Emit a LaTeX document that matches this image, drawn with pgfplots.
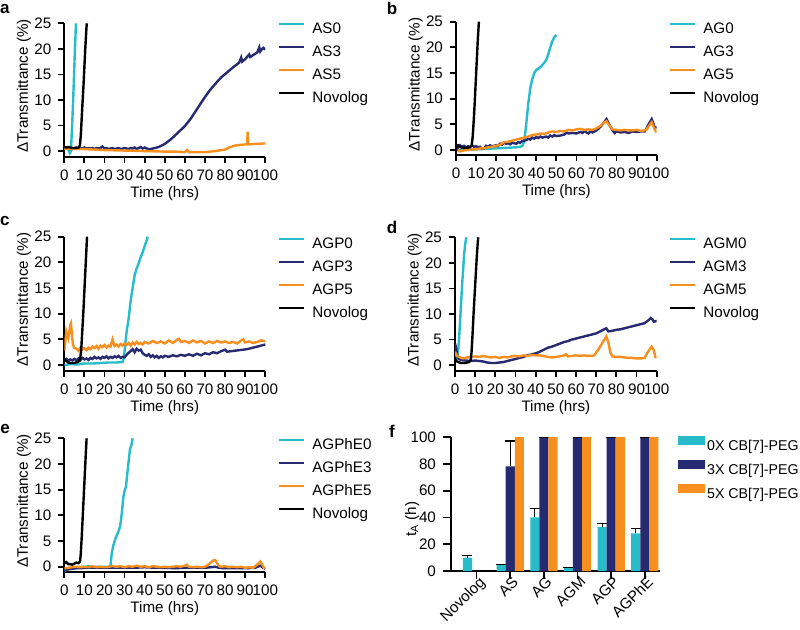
\documentclass[border=0pt]{standalone}
\usepackage{pgfplots}
\pgfplotsset{compat=1.18}
\usepackage{fontspec}
\setmainfont{Liberation Sans}
\definecolor{cy}{RGB}{40,187,202}
\definecolor{nv}{RGB}{38,42,112}
\definecolor{og}{RGB}{247,143,31}
\newcommand\fs{\fontsize{7.6}{9}\selectfont}
\pgfplotsset{
 common/.style={
  scale only axis,
  axis x line=bottom, axis y line=left,
  x axis line style={-}, y axis line style={-},
  axis line style={line width=0.9pt},
  tick align=outside, major tick length=3pt,
  tick style={line width=0.9pt, black},
  tick label style={font=\fs},
  /pgf/number format/assume math mode=true,
  label style={font=\fs, inner sep=0pt},
  legend style={draw=none, fill=none, font=\fs, anchor=north west,
    inner sep=0pt, outer sep=0pt,
    row sep=4.5pt, nodes={inner sep=0pt, outer sep=0pt, text height=5.5pt, text depth=1.5pt}},
  legend cell align=left,
 },
 linepanel/.style={
  common,
  width=100.5pt, height=66.7pt,
  xmin=0, xmax=100, ymin=-1.1, ymax=25,
  xtick={0,10,...,100}, ytick={0,5,...,25},
  xlabel={Time (hrs)}, ylabel={ΔTransmittance (\%)},
  xlabel style={at={(axis description cs:0.5,0)}, anchor=north, yshift=-14.5pt},
  ylabel style={at={(axis description cs:-0.163,0.53)}, anchor=south},
  legend image code/.code={\draw[##1, line width=1.2pt] (0pt,2.6pt) -- (12.5pt,2.6pt); \path (16pt,0pt);},
 },
 lw/.style={line width=1.2pt, mark=none},
 barleg/.style={legend image code/.code={\fill[##1] (0pt,0.6pt) rectangle (13.7pt,4.9pt); \path (14.6pt,0pt);}},
 eb/.style={error bars/.cd, y dir=plus, y explicit, error mark=|,
  error bar style={black, line width=0.6pt},
  error mark options={black, line width=0.6pt, mark size=2.5pt}},
}
\begin{document}
\begin{tikzpicture}
\path[use as bounding box] (0,0) rectangle (400pt,-314.5pt);
\tikzset{lett/.style={font=\bfseries\fontsize{8.5}{9}\selectfont, inner sep=0pt}}
\node[lett] at (2.4pt,-4.5pt) {a};
\node[lett] at (196pt,-4.2pt) {b};
\node[lett] at (2.4pt,-110.5pt) {c};
\node[lett] at (196pt,-113.5pt) {d};
\node[lett] at (2.5pt,-214.5pt) {e};
\node[lett] at (196pt,-215.5pt) {f};

% ---------- a ----------
\begin{axis}[linepanel, at={(32.15pt,-78.35pt)}, anchor=south west,
  legend style={at={(axis description cs:1.063,1.007)}}]
\addplot[cy, lw] coordinates {(0,0.4)(1,0.5)(2,0.3)(2.8,-0.4)(3.3,0)(4,6)(4.6,12)(5.2,19)(5.8,25)};
\addplot[nv, lw] coordinates {(0,0.5)(1,0.7)(2,0.5)(3,0.6)(4,0.4)(5,0.6)(6,0.7)(7,0.5)(8,0.6)(9,0.5)(10,0.7)(11,0.5)(12,0.6)(13,0.5)(14,0.6)(15,0.4)(16,0.6)(17,0.5)(18,0.6)(19,0.9)(20,0.5)(21,0.6)(22,0.4)(23,0.5)(24,0.6)(25,0.4)(26,0.5)(27,0.6)(28,0.4)(29,0.5)(30,0.6)(31,0.5)(32,0.4)(33,0.6)(34,0.5)(35,0.7)(36,0.4)(37,0.6)(38,0.8)(39,0.5)(40,0.7)(41,0.5)(42,0.4)(43,0.4)(44,0.5)(45,0.6)(46,0.7)(47,0.8)(48,1.0)(50,1.4)(53,2.3)(56,3.4)(60,4.9)(63,6.4)(66,8.2)(69,10)(72,11.7)(75,13.1)(78,14.4)(81,15.4)(84,16.4)(87,17.3)(88,18.3)(88.5,17.5)(90,18)(92,18.9)(92.5,18.4)(94,18.8)(96,19.3)(97,20.3)(97.5,19.5)(98,19.8)(99,20.2)(100,19.9)};
\addplot[og, lw] coordinates {(0,0.5)(5,0.4)(10,0.4)(15,0.3)(20,0.2)(30,0.1)(40,0)(50,-0.1)(55,-0.1)(60,-0.2)(61,0.2)(62,-0.2)(70,-0.2)(75,0)(80,0.3)(82,0.7)(85,1.1)(90,1.3)(91,1.3)(91.2,3.8)(91.5,1.3)(95,1.4)(100,1.5)};
\addplot[black, lw] coordinates {(0,0.8)(1,0.7)(2,0.8)(4,0.6)(6,0.6)(7.2,0.7)(7.8,1.2)(8.2,3)(8.6,6)(9,9)(9.5,12.5)(10,16.5)(10.5,20.5)(11,24)(11.2,25)};
\legend{AS0,AS3,AS5,Novolog}
\end{axis}

% ---------- b ----------
\begin{axis}[linepanel, at={(228pt,-77.5pt)}, anchor=south west, width=100.35pt, height=66.65pt, ymin=-1.0,
  legend style={at={(axis description cs:1.061,0.995)}}]
\addplot[cy, lw] coordinates {(0,0.3)(2,0)(4,0.1)(6,0)(10,0.1)(15,0.2)(20,0.3)(25,0.4)(30,0.5)(32,0.6)(33,0.8)(34,1.6)(35,5)(36,9)(37,12)(38,13.8)(39,15)(40,15.6)(42,16.1)(44,17)(45,17.6)(46,18.7)(47,20)(48,21.2)(49,22)(50,22.4)};
\addplot[nv, lw] coordinates {(0,0.8)(1,0.5)(2,0.9)(3,0.6)(4,0.8)(5,0.5)(6,0.7)(7,0.6)(8,0.9)(9,0.6)(10,0.7)(11,0.5)(12,0.6)(13,0.2)(14,0.3)(15,0.8)(16,0.6)(17,0.9)(18,0.7)(19,0.8)(20,0.9)(21,0.8)(22,1.2)(23,1.0)(24,1.4)(25,1.2)(26,1.3)(27,1.1)(28,1.4)(29,1.3)(30,1.2)(31,1.5)(32,1.4)(33,1.7)(34,1.8)(35,1.9)(36,2.2)(37,2.0)(38,2.4)(39,2.2)(40,2.5)(41,2.3)(42,2.6)(43,2.4)(44,2.5)(45,2.6)(46,2.4)(47,2.8)(48,2.6)(49,2.9)(50,2.7)(52,2.8)(54,3.0)(55,3.4)(56,3.2)(58,3.3)(60,3.2)(62,3.5)(63,3.3)(64,3.7)(65,3.4)(66,3.2)(67,3.6)(68,3.4)(70,3.8)(72,4.5)(74,5.5)(75,6.0)(76,5.2)(78,3.8)(79,3.3)(80,3.6)(82,3.4)(84,3.5)(86,3.3)(88,3.6)(90,3.5)(92,3.6)(94,3.6)(95,4.2)(96,5.0)(97.5,6.0)(98.5,5.0)(99,4.2)(100,4.5)};
\addplot[og, lw] coordinates {(0,0.2)(2,-0.3)(4,-0.1)(6,0)(8,0.1)(10,0.1)(12,0.3)(14,0.3)(16,0.5)(18,0.6)(20,0.8)(22,1.0)(24,1.5)(26,1.6)(28,1.8)(30,2.0)(32,2.2)(34,2.4)(36,2.6)(38,2.9)(40,3.0)(42,3.2)(44,3.1)(46,3.4)(48,3.6)(50,3.5)(52,3.7)(54,3.6)(56,3.9)(58,3.8)(60,4.0)(62,4.1)(64,3.9)(66,4.0)(68,3.9)(70,4.2)(72,4.7)(74,5.4)(75,5.6)(76,5.0)(78,4.0)(80,3.9)(82,3.8)(84,3.9)(86,3.8)(88,3.8)(90,3.9)(92,3.7)(94,3.8)(95,4.0)(96,4.6)(97.5,5.4)(98.5,4.5)(99.3,3.8)(100,3.4)};
\addplot[black, lw] coordinates {(0,-0.3)(0.3,0.8)(1,0.9)(2,0.6)(3,0.4)(5,0.4)(7,0.5)(7.8,0.9)(8.3,2.5)(8.8,5.5)(9.3,9)(9.8,13)(10.3,17)(10.8,21)(11.4,25)};
\legend{AG0,AG3,AG5,Novolog}
\end{axis}

% ---------- c ----------
\begin{axis}[linepanel, at={(32.15pt,-185.35pt)}, anchor=south west, height=67pt,
  legend style={at={(axis description cs:1.063,0.995)}}]
\addplot[cy, lw] coordinates {(0,0)(2,0.1)(4,0.2)(6,0.1)(8,0.2)(10,0.3)(14,0.3)(18,0.4)(22,0.5)(26,0.5)(29,0.6)(29.7,1.5)(30.3,4)(31,6.5)(32,9)(33,12.5)(34,15)(35,17.5)(36,18.8)(37,19.8)(38,21)(39,22)(40,23.2)(41,24.3)(41.5,25)};
\addplot[nv, lw] coordinates {(0,0.9)(1,1.2)(2,0.8)(3,1.1)(4,0.9)(5,1.2)(6,0.9)(7,1.3)(8,1.0)(9,1.4)(10,1.1)(11,1.3)(12,1.0)(13,1.4)(14,1.2)(15,1.6)(16,1.3)(17,1.5)(18,1.2)(19,1.6)(20,1.4)(21,1.7)(22,1.3)(23,1.6)(24,1.4)(25,1.7)(26,1.5)(27,1.8)(28,1.4)(29,1.6)(30,1.5)(31,2.0)(32,2.4)(33,2.7)(34,3.1)(35,2.5)(36,3.2)(37,2.8)(38,3.0)(39,2.3)(40,2.0)(41,1.8)(42,2.1)(43,1.6)(44,1.9)(45,1.5)(46,1.8)(47,1.4)(48,1.7)(49,1.5)(50,1.8)(52,1.6)(54,1.9)(56,1.7)(58,2.0)(60,1.8)(62,2.1)(64,1.8)(66,2.2)(68,1.9)(70,2.3)(72,2.1)(74,2.5)(76,2.3)(78,2.7)(80,3.0)(81,2.6)(83,2.7)(85,2.8)(87,2.9)(89,3.0)(91,3.1)(93,3.3)(95,3.5)(97,3.7)(100,4.0)};
\addplot[og, lw] coordinates {(0,2.8)(0.5,4.5)(1,6.5)(1.5,5.8)(2,5.2)(2.5,6.5)(3,7.8)(3.3,8.1)(3.8,6)(4.3,4)(5,3.3)(6,3.2)(7,2.8)(8,3.4)(9,3.0)(10,3.3)(11,2.9)(12,3.4)(13,3.1)(14,3.6)(15,3.3)(16,3.7)(17,3.2)(18,3.8)(19,3.5)(20,3.9)(21,3.4)(22,3.8)(23,3.6)(24,5.0)(25,3.7)(26,4.0)(27,3.6)(28,4.1)(29,3.8)(30,4.2)(31,3.9)(32,4.3)(33,3.8)(34,4.4)(35,4.0)(36,4.5)(37,4.1)(38,4.3)(39,4.0)(40,4.5)(42,4.2)(44,4.7)(46,4.3)(48,4.6)(50,4.2)(52,4.8)(54,4.3)(56,4.9)(57,5.1)(58,4.5)(60,4.7)(62,4.3)(64,4.8)(66,4.4)(68,4.7)(70,4.2)(72,4.6)(74,4.3)(76,4.7)(78,4.4)(80,4.6)(82,4.3)(84,4.5)(86,4.2)(88,4.8)(89,5.0)(90,4.4)(92,4.6)(94,4.3)(96,4.5)(98,4.8)(100,4.6)};
\addplot[black, lw] coordinates {(0,1.1)(1,0.8)(2,0.5)(3,0.4)(5,0.4)(6.5,0.6)(7.5,0.8)(8,1.5)(8.5,3.5)(9,7)(9.5,10.5)(10,14.5)(10.5,18.5)(11,22.5)(11.3,25)};
\legend{AGP0,AGP3,AGP5,Novolog}
\end{axis}

% ---------- d ----------
\begin{axis}[linepanel, at={(227.5pt,-185.35pt)}, anchor=south west, width=100.85pt,
  legend style={at={(axis description cs:1.061,0.999)}}]
\addplot[cy, lw] coordinates {(0,3)(0.5,2)(1,1.5)(1.5,2.5)(2,5)(2.5,8.5)(3,12)(3.5,15.5)(4,18.5)(4.5,21.5)(5,23.5)(5.6,25)};
\addplot[nv, lw] coordinates {(0,4.2)(0.5,3.5)(1,2)(2,1.2)(3,1)(5,0.9)(8,0.8)(10,0.9)(12,0.8)(14,0.7)(16,0.5)(18,0.4)(20,0.4)(22,0.5)(24,0.6)(26,0.8)(28,1)(30,1.2)(32,1.4)(34,1.6)(36,1.9)(38,2.1)(40,2.3)(42,2.6)(44,3.0)(46,3.4)(48,3.6)(50,3.9)(52,4.2)(54,4.5)(56,4.7)(58,5.0)(60,5.2)(62,5.4)(64,5.6)(66,5.8)(68,6.0)(70,6.2)(72,6.6)(74,7.0)(75,7.2)(76,6.6)(78,6.7)(80,6.9)(82,7.0)(84,7.2)(86,7.4)(88,7.6)(90,7.8)(92,8.0)(94,8.2)(96,8.8)(97,9.2)(98,8.9)(98.5,8.5)(100,8.6)};
\addplot[og, lw] coordinates {(0,2.6)(0.5,2.2)(1,1.8)(2,1.6)(3,1.4)(4,1.3)(5,1.4)(6,1.5)(8,1.6)(10,1.7)(12,1.6)(14,1.8)(16,1.6)(18,1.5)(20,1.6)(22,1.4)(24,1.6)(26,1.5)(28,1.7)(30,1.8)(32,1.7)(34,1.9)(36,1.8)(38,2.0)(40,1.9)(42,1.9)(44,1.8)(46,1.6)(48,1.5)(50,1.6)(52,1.7)(54,1.9)(55,2.1)(56,1.7)(58,1.8)(60,1.9)(62,1.8)(64,1.9)(66,1.8)(68,1.8)(69,1.9)(71,3)(73,4.3)(75,5.6)(76,4.5)(77,2.5)(78,1.7)(80,1.6)(82,1.6)(84,1.5)(86,1.4)(88,1.4)(90,1.3)(92,1.3)(94,1.4)(95.5,2.5)(97.5,3.6)(98.5,3.0)(99.3,1.6)(100,1.5)};
\addplot[black, lw] coordinates {(0,1.5)(0.5,0.8)(1,0.7)(3,0.4)(5,0.4)(7,0.6)(7.8,1)(8.2,2.5)(8.7,6)(9.2,10)(9.7,13.5)(10.2,17)(10.7,20.5)(11.2,23.5)(11.5,25)};
\legend{AGM0,AGM3,AGM5,Novolog}
\end{axis}

% ---------- e ----------
\begin{axis}[linepanel, at={(32.15pt,-285.85pt)}, anchor=south west, ymin=-0.97,
  legend style={at={(axis description cs:1.063,0.999)}}]
\addplot[cy, lw] coordinates {(0,-0.8)(1,-0.6)(2,-0.5)(3,-0.4)(4,-0.3)(5,-0.2)(7,-0.1)(9,0)(11,0)(12,0.1)(14,-0.1)(16,0)(18,0)(20,0)(22,0)(23,0.2)(23.6,2.6)(24.3,4)(25.2,5.2)(26,6)(26.9,6.8)(27.7,7.8)(28.2,9)(28.6,10.4)(29.4,13.6)(30,14.8)(30.7,15.6)(31.3,18)(31.9,20.1)(32.7,23)(33.3,23.5)(34,25)};
\addplot[nv, lw] coordinates {(0,-0.6)(2,-0.5)(4,-0.4)(6,-0.3)(8,-0.3)(10,-0.2)(15,-0.2)(20,-0.2)(25,-0.2)(30,-0.2)(35,-0.2)(40,-0.1)(45,-0.2)(50,-0.2)(55,-0.3)(60,-0.2)(65,-0.2)(70,-0.2)(73,-0.1)(75,0)(77,-0.2)(80,-0.3)(85,-0.3)(90,-0.3)(95,-0.2)(97.5,0.2)(99,-0.2)(100,-0.4)};
\addplot[og, lw] coordinates {(0,-0.3)(2,-0.2)(4,-0.1)(6,0)(8,-0.1)(10,0)(12,-0.1)(14,0.1)(16,-0.1)(18,0)(20,-0.1)(22,0)(24,0.1)(26,0)(28,0.1)(30,-0.1)(32,0.1)(34,0)(36,0.2)(38,0)(40,0.1)(42,-0.1)(44,0.1)(46,0)(48,-0.1)(50,0)(52,-0.1)(54,0)(56,0.1)(58,0)(60,0.2)(61,0.4)(62,0)(64,-0.1)(66,0)(68,-0.1)(70,0)(72,0.5)(74,1.2)(75,1.3)(76,0.7)(77,0.1)(78,0)(80,0.1)(82,-0.1)(84,0)(86,-0.1)(88,0)(90,-0.2)(92,-0.1)(94,-0.2)(96,0.4)(97.5,1.0)(98.5,0.4)(99.3,-0.2)(100,-0.3)};
\addplot[black, lw] coordinates {(0,1)(0.5,0.8)(1,0.9)(2,0.5)(3,0.5)(4,0.4)(5,0.6)(6,0.8)(7,0.7)(7.8,1)(8.2,2.5)(8.7,6)(9.2,10)(9.7,14)(10.2,18)(10.7,22)(11.1,25)};
\legend{AGPhE0,AGPhE3,AGPhE5,Novolog}
\end{axis}

% ---------- f ----------
\begin{axis}[common, at={(225.5pt,-285.5pt)}, anchor=south west,
  width=104.5pt, height=67pt,
  xmin=-0.76, xmax=5.45, ymin=0, ymax=100,
  xtick={0,...,5}, xticklabels={Novolog,AS,AG,AGM,AGP,AGPhE},
  ytick={0,20,...,100}, major tick length=4pt,
  xticklabel style={rotate=45, anchor=north east, inner sep=0.5pt, xshift=2.5pt, yshift=1.5pt},
  ylabel={t\textsubscript{A} (h)},
  ylabel style={at={(axis description cs:-0.15,0.385)}, anchor=south},
  ybar=0pt, bar width=0.27,
  legend style={at={(axis description cs:1.086,1.004)}, row sep=3.6pt, font=\fontsize{7.1}{9}\selectfont},
]
\addplot[fill=cy, draw=none, bar shift=-0.27, barleg, eb]
  coordinates {(0,10) +- (0,1.6) (1,4.5) +- (0,0.6) (2,40) +- (0,6.5) (3,2.2) +- (0,0.6) (4,33) +- (0,2.2) (5,28) +- (0,4)};
\addplot[fill=nv, draw=none, bar shift=0, barleg, eb]
  coordinates {(1,78) +- (0,19) (2,100) +- (0,0) (3,100) +- (0,0) (4,100) +- (0,0) (5,100) +- (0,0)};
\addplot[fill=og, draw=none, bar shift=0.27, barleg]
  coordinates {(1,100) (2,100) (3,100) (4,100) (5,100)};
\legend{0X CB[7]-PEG,3X CB[7]-PEG,5X CB[7]-PEG}
\end{axis}
\end{tikzpicture}
\end{document}
